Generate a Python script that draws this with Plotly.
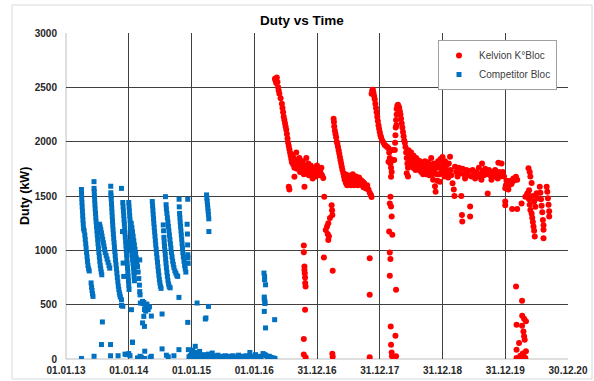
import numpy as np
import pandas as pd
import plotly.graph_objects as go

# x values are in "years" of 365 days after 01.01.13, y values in kW
competitor_2013 = [
    (0.246, 1560), (0.248, 1520), (0.251, 1480), (0.254, 1440), (0.258, 1400), (0.262, 1360), (0.266, 1320),
    (0.270, 1280), (0.275, 1240), (0.280, 1200), (0.290, 1180), (0.300, 1140), (0.307, 1100), (0.314, 1060),
    (0.321, 1020), (0.328, 980), (0.335, 940), (0.342, 900), (0.350, 860), (0.360, 830), (0.370, 810),
    (0.400, 700), (0.408, 660), (0.415, 630), (0.422, 600), (0.430, 576),
    (0.446, 1632), (0.447, 1570), (0.450, 1540), (0.453, 1500), (0.457, 1460), (0.461, 1420), (0.465, 1380),
    (0.470, 1340), (0.475, 1300), (0.480, 1260), (0.486, 1220), (0.492, 1180), (0.498, 1140), (0.504, 1100),
    (0.510, 1060), (0.517, 1020), (0.524, 980), (0.531, 940), (0.538, 900), (0.546, 860), (0.554, 830),
    (0.562, 800), (0.570, 775),
    (0.535, 1240), (0.545, 1215), (0.555, 1190), (0.565, 1160), (0.575, 1130), (0.585, 1100), (0.595, 1070),
    (0.605, 1040), (0.615, 1010), (0.625, 980), (0.640, 950), (0.655, 920), (0.670, 890), (0.685, 860),
    (0.697, 836),
    (0.713, 1590), (0.715, 1530), (0.718, 1500), (0.721, 1470), (0.725, 1430), (0.729, 1390), (0.733, 1350),
    (0.737, 1310), (0.741, 1270), (0.745, 1230), (0.750, 1190), (0.755, 1150), (0.760, 1110), (0.766, 1070),
    (0.772, 1030), (0.778, 990), (0.784, 950), (0.790, 910), (0.797, 870), (0.804, 830), (0.811, 790),
    (0.818, 750), (0.826, 710), (0.834, 670), (0.842, 640), (0.850, 610), (0.858, 590), (0.866, 570),
    (0.884, 1570), (0.884, 545), (0.884, 493), (0.905, 485),
    (0.905, 1440), (0.910, 1400), (0.915, 1360), (0.920, 1320), (0.925, 1280), (0.930, 1240), (0.935, 1200),
    (0.940, 1160), (0.945, 1120), (0.950, 1080), (0.955, 1040), (0.960, 1000), (0.965, 960), (0.970, 920),
    (0.975, 880), (0.980, 840), (0.985, 800), (0.990, 760), (0.995, 720), (1.000, 680), (1.005, 640),
    (0.900, 1173), (0.910, 883), (0.920, 760),
]

competitor_2014 = [
    (1.000, 1440), (1.005, 1400), (1.010, 1360), (1.015, 1320), (1.020, 1280), (1.025, 1240), (1.030, 1200),
    (1.035, 1160), (1.040, 1120), (1.045, 1080), (1.050, 1040), (1.055, 1000), (1.060, 960), (1.065, 920),
    (1.070, 880), (1.075, 840), (1.080, 800), (1.085, 760), (1.090, 720),
    (1.040, 1250), (1.050, 1210), (1.060, 1170), (1.070, 1130), (1.080, 1090), (1.090, 1050), (1.100, 1010),
    (1.110, 970), (1.120, 930), (1.130, 890), (1.140, 850), (1.150, 800), (1.160, 740), (1.170, 680),
    (1.175, 620), (1.180, 590),
    (1.020, 1080), (1.030, 1040), (1.040, 1000), (1.050, 960), (1.060, 920), (1.070, 880), (1.080, 840),
    (1.095, 800), (1.175, 912),
    (1.185, 515), (1.220, 530), (1.230, 510), (1.240, 520), (1.250, 455), (1.260, 500), (1.270, 440),
    (1.280, 480), (1.290, 505), (1.300, 470), (1.310, 454), (1.330, 480), (1.240, 392), (1.220, 332),
    (1.250, 300), (1.360, 395), (1.043, 454), (1.060, 153),
    (1.375, 1449), (1.380, 1410), (1.385, 1370), (1.390, 1330), (1.395, 1290), (1.400, 1250), (1.406, 1210),
    (1.412, 1170), (1.418, 1130), (1.424, 1090), (1.430, 1050), (1.437, 1010), (1.444, 970), (1.451, 930),
    (1.458, 890), (1.465, 850), (1.472, 810), (1.480, 770), (1.488, 730), (1.496, 700), (1.505, 670),
    (1.515, 650),
    (1.550, 1234), (1.555, 1180), (1.560, 1120), (1.565, 1080), (1.570, 1040), (1.576, 1000), (1.582, 960),
    (1.588, 920), (1.594, 880), (1.600, 840), (1.608, 800), (1.616, 760), (1.625, 720), (1.635, 690),
    (1.645, 665), (1.660, 655),
    (1.585, 1494), (1.595, 1420), (1.600, 1380), (1.608, 1340), (1.616, 1300), (1.624, 1260), (1.632, 1220),
    (1.640, 1180), (1.648, 1140), (1.656, 1100), (1.664, 1060), (1.672, 1020), (1.680, 980), (1.690, 940),
    (1.700, 900), (1.710, 870), (1.720, 840), (1.735, 810), (1.750, 790), (1.765, 770), (1.780, 760),
    (1.802, 1470), (1.805, 1400), (1.810, 1340), (1.815, 1300), (1.820, 1260), (1.826, 1220), (1.832, 1180),
    (1.838, 1140), (1.844, 1100), (1.850, 1060), (1.856, 1020), (1.862, 980), (1.870, 940), (1.880, 900),
    (1.890, 860), (1.900, 830), (1.910, 800), (1.940, 1470), (1.945, 930), (1.930, 1240), (1.935, 1150),
    (1.938, 1050), (1.942, 960), (1.947, 880),
    (1.531, 414), (1.531, 93), (1.800, 567), (1.800, 86), (1.940, 337), (1.950, 86),
]

competitor_low = [
    (0.246, 5), (0.447, 25), (0.580, 341), (0.565, 133), (0.710, 133), (0.710, 30), (0.830, 30), (0.940, 45),
    (0.960, 40), (1.000, 50), (1.020, 30), (1.060, 155), (1.140, 10), (1.160, 5), (1.180, 25), (1.255, 72),
    (1.200, 15), (1.250, 5), (1.340, 12), (1.360, 25), (1.600, 35), (1.630, 20), (1.720, 30), (1.960, 20),
    (1.980, 30), (2.000, 55), (2.010, 10), (2.020, 80), (2.030, 25), (2.050, 40), (2.060, 117), (2.070, 15),
    (2.090, 60), (2.100, 30), (2.120, 20), (2.130, 70), (2.150, 25), (2.170, 15), (2.190, 40), (2.210, 20),
    (2.230, 30), (2.250, 15), (2.270, 45), (2.290, 20), (2.310, 25), (2.330, 55), (2.350, 15), (2.370, 30),
    (2.390, 20), (2.420, 35), (2.450, 15), (2.480, 25), (2.510, 20), (2.540, 30), (2.570, 15), (2.600, 25),
    (2.630, 20), (2.660, 30), (2.690, 15), (2.720, 20), (2.750, 35), (2.780, 15), (2.810, 25), (2.840, 20),
    (2.870, 30), (2.900, 15), (2.930, 60), (2.960, 25), (2.990, 20), (3.020, 40), (3.050, 15), (3.080, 25),
    (3.110, 20), (3.140, 50), (3.170, 40), (3.190, 30), (3.210, 20), (3.240, 25), (3.270, 15), (3.300, 10),
    (3.330, 5),
    (2.240, 1510), (2.245, 1480), (2.250, 1450), (2.255, 1420), (2.260, 1390), (2.265, 1360), (2.270, 1330),
    (2.275, 1290), (2.277, 1173), (2.089, 515), (2.270, 484), (2.220, 368), (2.230, 378),
    (3.155, 791), (3.165, 760), (3.180, 683), (3.160, 570), (3.170, 530), (3.160, 438), (3.180, 286),
    (3.325, 362), (3.160, 550), (3.170, 510), (3.165, 730),
]

kelvion_2016 = [
    (3.330, 2580), (3.340, 2560), (3.350, 2540), (3.360, 2590), (3.370, 2550), (3.380, 2500), (3.390, 2470),
    (3.400, 2440), (3.420, 2400), (3.440, 2350), (3.450, 2310), (3.460, 2270), (3.470, 2230), (3.480, 2200),
    (3.490, 2170), (3.500, 2140), (3.510, 2110), (3.520, 2070), (3.530, 2030), (3.540, 1990), (3.550, 1960),
    (3.560, 1930),
    (3.570, 1900), (3.580, 1870), (3.590, 1840), (3.600, 1810), (3.610, 1880), (3.620, 1790), (3.630, 1850),
    (3.640, 1760), (3.650, 1820), (3.660, 1780), (3.670, 1900), (3.680, 1750), (3.690, 1830), (3.700, 1790),
    (3.710, 1760), (3.720, 1850), (3.730, 1720), (3.740, 1800), (3.750, 1770), (3.760, 1740), (3.770, 1820),
    (3.780, 1750), (3.790, 1700), (3.800, 1780), (3.820, 1730), (3.830, 1850), (3.840, 1760), (3.850, 1720),
    (3.860, 1800), (3.870, 1690), (3.880, 1750), (3.890, 1720), (3.900, 1780), (3.910, 1700), (3.920, 1740),
    (3.930, 1660), (3.940, 1720), (3.950, 1760), (3.960, 1700), (3.970, 1740), (3.980, 1680), (3.990, 1720),
    (4.000, 1780), (4.010, 1700), (4.020, 1750), (4.030, 1720), (4.040, 1690), (4.050, 1740), (4.060, 1710),
    (4.070, 1760), (4.080, 1690),
    (3.550, 1585), (3.560, 1560), (3.640, 1676), (3.800, 1585), (4.100, 1665),
    (3.790, 1044), (3.790, 983), (3.800, 851), (3.800, 820), (3.805, 790), (3.810, 750), (3.812, 700),
    (3.818, 668), (3.810, 454), (3.790, 185), (3.790, 41), (3.820, 14),
    (4.115, 1493), (4.233, 1416), (4.240, 1370), (4.245, 1325), (4.206, 1298), (4.180, 1250), (4.160, 1220),
    (4.140, 1188), (4.180, 1096), (4.170, 1150), (4.190, 1130), (4.110, 934), (4.250, 812), (4.245, 48),
    (4.250, 20),
]

kelvion_2017 = [
    (4.265, 2212), (4.270, 2180), (4.275, 2140), (4.285, 2100), (4.295, 2070), (4.305, 2040), (4.315, 2000),
    (4.325, 1980), (4.335, 1950), (4.345, 1920), (4.355, 1890), (4.365, 1860), (4.375, 1830), (4.385, 1800),
    (4.395, 1770), (4.405, 1740), (4.420, 1710),
    (4.430, 1680), (4.440, 1650), (4.450, 1700), (4.460, 1620), (4.470, 1660), (4.480, 1600), (4.490, 1690),
    (4.500, 1640), (4.510, 1610), (4.520, 1670), (4.530, 1630), (4.540, 1600), (4.550, 1660), (4.560, 1620),
    (4.570, 1700), (4.580, 1640), (4.590, 1600), (4.600, 1660), (4.610, 1630), (4.620, 1680), (4.630, 1620),
    (4.640, 1650), (4.650, 1600), (4.660, 1640), (4.670, 1670), (4.680, 1620), (4.690, 1650), (4.700, 1610),
    (4.710, 1640), (4.720, 1600), (4.730, 1630), (4.740, 1580), (4.750, 1620), (4.760, 1590), (4.780, 1570),
    (4.800, 1600), (4.820, 1560), (4.840, 1530), (4.860, 1510), (4.870, 1490),
    (4.840, 928), (4.840, 592), (4.840, 16),
    (4.870, 2440), (4.880, 2470), (4.890, 2478), (4.900, 2450), (4.910, 2420), (4.920, 2390), (4.930, 2350),
    (4.940, 2310), (4.950, 2270), (4.960, 2230), (4.970, 2190), (4.980, 2150), (4.990, 2120), (5.000, 2090),
    (5.010, 2060), (5.020, 2040), (5.040, 2010), (5.060, 1990), (5.080, 1970), (5.100, 1960), (5.120, 1950),
    (5.140, 1940),
    (5.150, 1900), (5.160, 1850), (5.170, 1800), (5.180, 1760), (5.190, 1720), (5.180, 1678), (5.140, 1816),
    (5.200, 1923), (5.210, 1832), (5.170, 1494), (5.160, 1430), (5.180, 1403), (5.190, 1311), (5.150, 1173),
    (5.200, 1143), (5.160, 980), (5.170, 920), (5.160, 766), (5.260, 638), (5.175, 300), (5.250, 215),
    (5.180, 132), (5.190, 60), (5.195, 25), (5.260, 25),
    (5.270, 2300), (5.280, 2330), (5.290, 2340), (5.300, 2325), (5.310, 2310), (5.320, 2280), (5.330, 2250),
    (5.340, 2210), (5.350, 2170), (5.360, 2130), (5.370, 2090), (5.380, 2050), (5.390, 2010), (5.400, 1990),
    (5.270, 2250), (5.260, 2200), (5.265, 2150), (5.255, 2130), (5.250, 2060), (5.245, 1990), (5.240, 1923),
    (5.230, 1832),
]

kelvion_2018 = [
    (5.410, 1950), (5.420, 1900), (5.430, 1850), (5.440, 1800), (5.450, 1760), (5.430, 1710), (5.450, 1680),
    (5.460, 1920), (5.470, 1880), (5.480, 1840), (5.490, 1790), (5.500, 1900), (5.510, 1850), (5.520, 1810),
    (5.530, 1760), (5.540, 1870), (5.550, 1820), (5.560, 1780), (5.570, 1740), (5.580, 1850), (5.590, 1800),
    (5.600, 1760), (5.610, 1830), (5.620, 1790), (5.630, 1740), (5.640, 1820), (5.650, 1770), (5.660, 1720),
    (5.670, 1800), (5.680, 1750), (5.690, 1700), (5.700, 1790), (5.710, 1740), (5.720, 1820), (5.730, 1760),
    (5.740, 1700), (5.750, 1780), (5.760, 1730), (5.770, 1810), (5.780, 1760), (5.790, 1690), (5.800, 1780),
    (5.810, 1720), (5.820, 1850), (5.830, 1760), (5.840, 1700), (5.850, 1650), (5.860, 1800), (5.870, 1740),
    (5.880, 1590), (5.890, 1540), (5.900, 1780), (5.910, 1700), (5.920, 1640), (5.930, 1820), (5.940, 1760),
    (5.950, 1700), (5.960, 1630), (5.970, 1840), (5.980, 1780), (5.990, 1720), (6.000, 1860), (6.010, 1800),
    (6.020, 1740), (6.030, 1680), (6.040, 1820), (6.050, 1760), (6.060, 1700), (6.070, 1790), (6.080, 1730),
    (6.090, 1670), (6.100, 1800), (6.120, 1862), (6.130, 1740), (6.140, 1690), (6.160, 1617), (6.180, 1560),
    (6.190, 1500), (6.200, 1770), (6.220, 1720), (6.240, 1680), (6.260, 1760), (6.280, 1710), (6.300, 1500),
    (6.310, 1326), (6.315, 1265), (6.320, 1750), (6.340, 1700), (6.360, 1660), (6.380, 1740), (6.400, 1690),
    (6.420, 1730), (6.440, 1403), (6.440, 1311), (6.460, 1680), (6.480, 1740), (6.500, 1700), (6.520, 1660),
    (6.540, 1720), (6.560, 1680), (6.580, 1760), (6.600, 1700), (6.620, 1650), (6.630, 1800), (6.640, 1730),
    (6.660, 1690), (6.680, 1750), (6.700, 1700), (6.720, 1524), (6.740, 1740), (6.760, 1690), (6.780, 1650),
    (6.800, 1720), (6.820, 1680), (6.840, 1740), (6.860, 1700), (6.880, 1660), (6.890, 1805), (6.900, 1720),
    (6.920, 1680), (6.940, 1800), (6.960, 1720), (6.980, 1680),
]

kelvion_2020 = [
    (7.000, 1572), (7.010, 1600), (7.020, 1640), (7.030, 1580), (7.040, 1620), (7.050, 1560), (7.060, 1600),
    (7.080, 1640), (7.100, 1610), (7.110, 1630), (7.130, 1660), (7.150, 1645), (7.170, 1676), (7.190, 1650),
    (7.000, 1416), (7.000, 1450), (7.110, 1380), (7.190, 1380), (7.260, 1432), (7.320, 1493), (7.350, 1520),
    (7.380, 1554), (7.370, 1755), (7.390, 1720), (7.400, 1680), (7.420, 1620),
    (7.360, 1525), (7.380, 1470), (7.390, 1420), (7.400, 1372), (7.420, 1340), (7.430, 1300), (7.440, 1260),
    (7.450, 1220), (7.460, 1180), (7.470, 1127), (7.440, 1500), (7.460, 1450), (7.480, 1400), (7.500, 1525),
    (7.520, 1480), (7.550, 1586), (7.560, 1530), (7.570, 1470), (7.580, 1410), (7.590, 1350), (7.600, 1280),
    (7.610, 1230), (7.610, 1189), (7.610, 1112), (7.660, 1586), (7.670, 1540), (7.680, 1480), (7.690, 1420),
    (7.700, 1360), (7.700, 1311),
    (7.172, 668), (7.268, 536), (7.270, 399), (7.300, 370), (7.330, 347), (7.180, 316), (7.268, 307),
    (7.290, 254), (7.300, 210), (7.310, 178), (7.220, 148), (7.180, 86), (7.330, 71), (7.180, 10),
    (7.220, 5), (7.260, 10), (7.300, 20), (7.240, 30), (7.280, 50), (7.320, 10),
]

tick_labels = ["01.01.13", "01.01.14", "01.01.15", "01.01.16", "31.12.16",
               "31.12.17", "31.12.18", "31.12.19", "30.12.20"]
y_ticks = [0, 500, 1000, 1500, 2000, 2500, 3000]

START = pd.Timestamp("2013-01-01")


def to_xy(points):
    years = np.array([p[0] for p in points])
    kw = [p[1] for p in points]
    dates = START + pd.to_timedelta(years * 365, unit="D")
    return dates, kw


kx, ky = to_xy(kelvion_2016 + kelvion_2017 + kelvion_2018 + kelvion_2020)
cx, cy = to_xy(competitor_2013 + competitor_2014 + competitor_low)

tick_vals = [START + pd.Timedelta(days=365 * k) for k in range(len(tick_labels))]

fig = go.Figure()
fig.add_trace(go.Scatter(
    x=kx, y=ky, mode="markers", name="Kelvion K°Bloc",
    marker=dict(color="#FF0000", size=6, symbol="circle", line=dict(width=0)),
))
fig.add_trace(go.Scatter(
    x=cx, y=cy, mode="markers", name="Competitor Bloc",
    marker=dict(color="#0070C0", size=5, symbol="square", line=dict(width=0)),
))

grid_col = "#404040"
tick_font = dict(family="Liberation Sans", size=10, color="#262626", weight="bold")
fig.update_xaxes(
    type="date", range=[tick_vals[0], tick_vals[-1]], automargin=False,
    tickmode="array", tickvals=tick_vals, ticktext=tick_labels,
    showgrid=True, gridcolor=grid_col, gridwidth=1, zeroline=False, showline=False,
    tickfont=tick_font, ticks="", ticklabelstandoff=4,
)
fig.update_yaxes(
    range=[0, 3000], tickmode="array", tickvals=y_ticks, automargin=False,
    showgrid=True, gridcolor=grid_col, gridwidth=1, zeroline=False, showline=False,
    tickfont=tick_font, ticks="", ticklabelstandoff=8,
)

L, R, T, B = 66, 26, 33, 22
pw = 594 - L - R
ph = 381 - T - B

fig.update_layout(
    template="none",
    width=594, height=381,
    margin=dict(l=L, r=R, t=T, b=B, autoexpand=False),
    paper_bgcolor="white", plot_bgcolor="white",
    font=dict(family="Liberation Sans"),
    showlegend=True,
    legend=dict(x=1 - 11 / pw, xanchor="right", y=1 - 7 / ph, yanchor="top",
                bgcolor="white", bordercolor="#A0A0A0", borderwidth=1,
                font=dict(family="Liberation Sans", size=10, color="#404040"),
                itemwidth=30, tracegroupgap=0),
    annotations=[
        dict(text="<b>Duty vs Time</b>", xref="paper", yref="paper",
             x=(302 - L) / pw, y=1 + (T - 20) / ph, xanchor="center", yanchor="middle", showarrow=False,
             font=dict(family="Liberation Sans", size=13.5, color="#000000")),
        dict(text="<b>Duty (kW)</b>", textangle=-90, xref="paper", yref="paper",
             x=(25 - L) / pw, y=0.5, xanchor="center", yanchor="middle", showarrow=False,
             font=dict(family="Liberation Sans", size=12.5, color="#000000")),
    ],
    shapes=[
        dict(type="rect", xref="paper", yref="paper", x0=(12 - L) / pw, x1=(592 - L) / pw,
             y0=-(379 - (381 - B)) / ph, y1=1 + (T - 5) / ph,
             line=dict(color="#D9D9D9", width=1), layer="below"),
        dict(type="line", xref="paper", yref="paper", x0=0, x1=0, y0=0, y1=1,
             line=dict(color="#BFBFBF", width=1), layer="between"),
        dict(type="line", xref="paper", yref="paper", x0=0, x1=1, y0=0, y1=0,
             line=dict(color="#BFBFBF", width=1), layer="between"),
    ],
)

fig.write_html("out.html", config={"displayModeBar": False},
               post_script="document.body.style.margin='0px';")
